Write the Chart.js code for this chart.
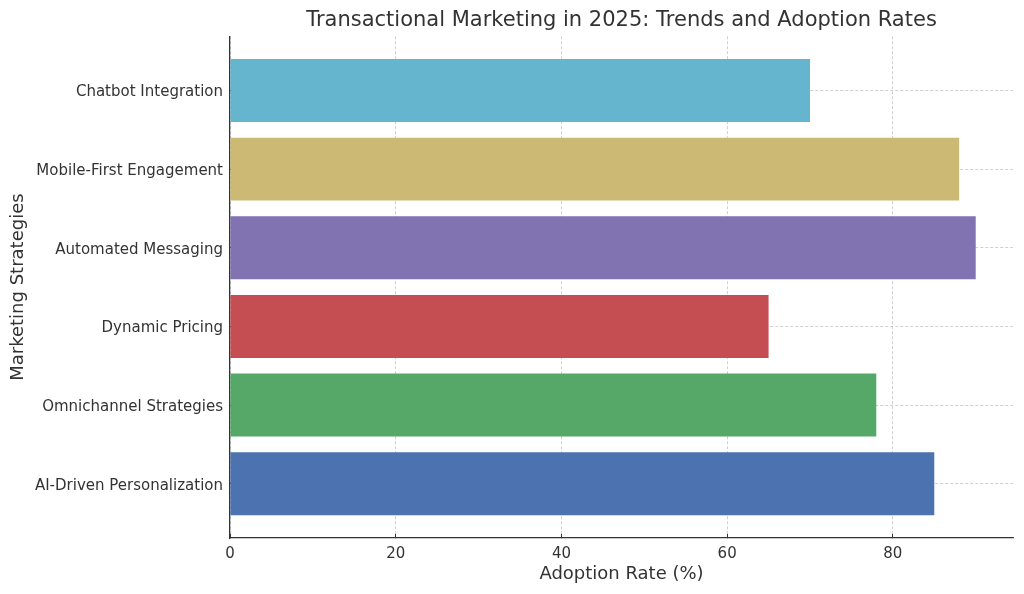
<!DOCTYPE html>
<html>
<head>
<meta charset="utf-8">
<title>Transactional Marketing in 2025</title>
<script src="https://cdn.jsdelivr.net/npm/chart.js@4"></script>
<style>
  html, body { margin: 0; padding: 0; background: #fff; }
  #wrap { width: 1024px; height: 594px; }
</style>
</head>
<body>
<div id="wrap"><canvas id="chart"></canvas></div>
<script>
// bottom to top, as the bars are stacked on the y axis
const categories = [
  "AI-Driven Personalization",
  "Omnichannel Strategies",
  "Dynamic Pricing",
  "Automated Messaging",
  "Mobile-First Engagement",
  "Chatbot Integration"
];
const adoptionRates = [85, 78, 65, 90, 88, 70];
const barColors = ["#4c72b0", "#55a868", "#c44e52", "#8172b2", "#ccb974", "#64b5cd"];
const xTicks = [0, 20, 40, 60, 80];

Chart.defaults.font.family = "'DejaVu Sans', sans-serif";
Chart.defaults.color = "#333";

const gridColor = "rgba(176,176,176,0.75)";

new Chart(document.getElementById("chart"), {
  type: "bar",
  data: {
    datasets: [{
      data: adoptionRates.map((v, i) => ({ x: v, y: i })),
      backgroundColor: barColors,
      barPercentage: 0.8,
      categoryPercentage: 1
    }]
  },
  options: {
    indexAxis: "y",
    responsive: true,
    maintainAspectRatio: false,
    animation: false,
    layout: { padding: { top: 0, left: 0, right: 11, bottom: 0 } },
    plugins: {
      legend: { display: false },
      tooltip: { enabled: false },
      title: {
        display: true,
        fullSize: false,
        text: "Transactional Marketing in 2025: Trends and Adoption Rates",
        color: "#333",
        font: { size: 21, weight: "normal" },
        padding: { top: 8, bottom: 3 }
      }
    },
    scales: {
      x: {
        type: "linear",
        min: 0,
        max: 94.5,
        z: 1,
        afterBuildTicks: axis => { axis.ticks = xTicks.map(v => ({ value: v })); },
        afterFit: axis => { axis.height = 56; },
        ticks: { font: { size: 15 }, color: "#333", padding: 11 },
        grid: { color: gridColor, lineWidth: 0.8, tickLength: -4, tickColor: "#333", tickWidth: 1 },
        border: { color: "#333", width: 1.25, dash: [3, 2] },
        title: {
          display: true,
          text: "Adoption Rate (%)",
          color: "#333",
          font: { size: 18 },
          padding: { top: 0, bottom: 9 }
        }
      },
      y: {
        type: "linear",
        min: -0.69,
        max: 5.69,
        offset: false,
        z: 1,
        afterBuildTicks: axis => { axis.ticks = categories.map((c, i) => ({ value: i })); },
        afterFit: axis => { axis.width = 230; },
        ticks: {
          font: { size: 15 },
          color: "#333",
          padding: 11,
          labelOffset: 2,
          callback: v => categories[v]
        },
        grid: { offset: false, color: gridColor, lineWidth: 0.8, tickLength: -4, tickColor: "#333", tickWidth: 1 },
        border: { color: "#333", width: 1.25, dash: [3, 2] },
        title: {
          display: true,
          text: "Marketing Strategies",
          color: "#333",
          font: { size: 18 },
          padding: { top: 8, bottom: 0 }
        }
      }
    }
  }
});
</script>
</body>
</html>
